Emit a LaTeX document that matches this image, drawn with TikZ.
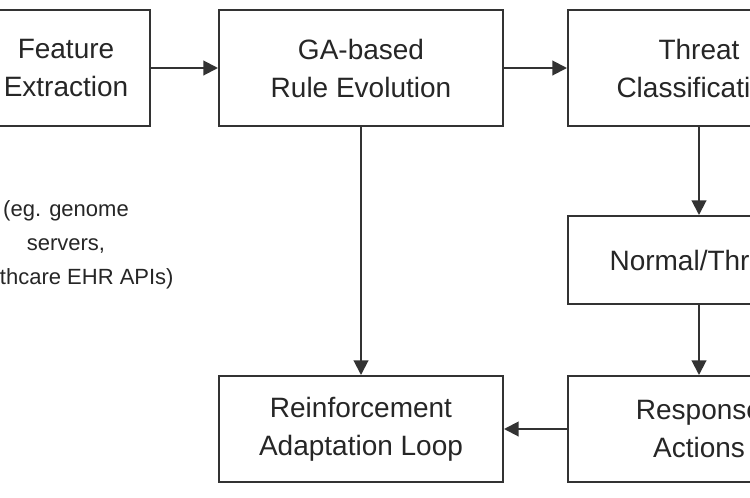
\documentclass[tikz,border=0pt]{standalone}
\usepackage{fontspec}
\setmainfont{Liberation Sans}
\usetikzlibrary{arrows.meta}
\definecolor{ink}{HTML}{333333}
\definecolor{txt}{HTML}{262626}
\tikzset{
  box/.style={draw=ink, line width=1.5pt, fill=white, align=center, text=txt,
    font=\fontsize{21}{28.5}\selectfont, inner sep=0pt},
  conn/.style={draw=ink, line width=1.5pt, -{Triangle[length=11pt,width=11pt]}},
  note/.style={align=center, text=txt, font=\fontsize{16.5}{25.5}\selectfont}
}
\begin{document}
\begin{tikzpicture}[x=0.75pt,y=-0.75pt]
\useasboundingbox (0,0) rectangle (750,497);
\clip (0,0) rectangle (750,497);
\fill[white] (0,0) rectangle (750,497);
\node[box, minimum width=126pt, minimum height=87pt] (fe) at (66,68) {Feature\\Extraction};
\node[box, minimum width=213pt, minimum height=87pt] (ga) at (361,68) {GA-based\\Rule Evolution};
\node[box, minimum width=196.5pt, minimum height=87pt] (tc) at (699,68) {Threat\\Classification};
\node[box, minimum width=196.5pt, minimum height=66pt] (nt) at (699,260) {Normal/Threat};
\node[box, minimum width=196.5pt, minimum height=79.5pt] (ra) at (699,429) {Response\\Actions};
\node[box, minimum width=213pt, minimum height=79.5pt] (re) at (361,429) {Reinforcement\\Adaptation Loop};
\node[note] (src) at (66,245) {(eg. genome\\servers,\\healthcare EHR APIs)};
\draw[conn] (fe.east) -- (ga.west);
\draw[conn] (ga.east) -- (tc.west);
\draw[conn] (ga.south) -- (re.north);
\draw[conn] (tc.south) -- (nt.north);
\draw[conn] (nt.south) -- (ra.north);
\draw[conn] (ra.west) -- (re.east);
\end{tikzpicture}
\end{document}
